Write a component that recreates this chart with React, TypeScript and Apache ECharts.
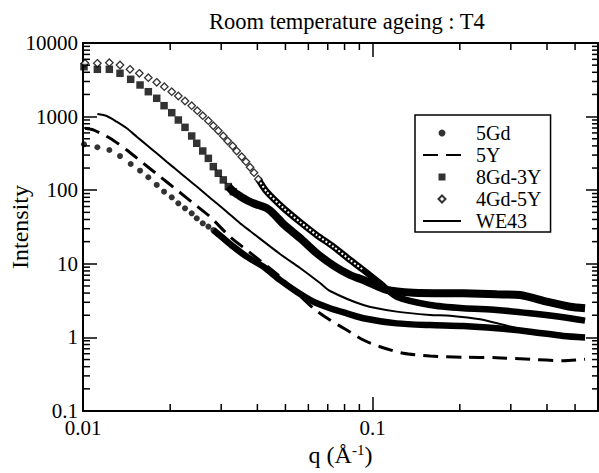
import React, { useEffect, useRef } from "react";
import * as echarts from "echarts";

const FONT = '"Liberation Serif", "Times New Roman", serif';

const X_MIN = 0.01;
const X_MAX = 0.6;
const Y_MIN = 0.1;
const Y_MAX = 10000;

const TITLE = "Room temperature ageing : T4";
const SERIES_NAMES = ["5Gd", "5Y", "8Gd-3Y", "4Gd-5Y", "WE43"];

const xMinorTicks = [0.02, 0.03, 0.04, 0.05, 0.06, 0.07, 0.08, 0.09, 0.2, 0.3, 0.4, 0.5];
const yMinorTicks = [
  0.2, 0.3, 0.4, 0.5, 0.6, 0.7, 0.8, 0.9,
  2, 3, 4, 5, 6, 7, 8, 9,
  20, 30, 40, 50, 60, 70, 80, 90,
  200, 300, 400, 500, 600, 700, 800, 900,
  2000, 3000, 4000, 5000, 6000, 7000, 8000, 9000,
];

// 5Gd : separate dots at low q, dense band at higher q
const gd5Dots = [
  [0.01008, 420], [0.01121, 383], [0.01233, 352], [0.01342, 291], [0.01461, 227],
  [0.01574, 184], [0.01681, 150], [0.01797, 118], [0.01905, 95.4], [0.02025, 80.1],
  [0.02134, 66.4], [0.0225, 56.8], [0.02373, 48.5], [0.0247, 41.5], [0.02591, 35.5],
  [0.02709, 32.0], [0.02818, 28.8], [0.02932, 25.2], [0.03051, 22.2],
];
const gd5Band = [
  [0.02818, 28.8], [0.03051, 22.2], [0.03304, 17.1], [0.03675, 12.5], [0.04195, 9.13],
  [0.04788, 6.02], [0.05468, 4.18], [0.06242, 3.06], [0.07127, 2.49], [0.0814, 2.12],
  [0.0929, 1.82], [0.1211, 1.55], [0.1579, 1.47], [0.2057, 1.43], [0.2682, 1.33],
  [0.3496, 1.195], [0.4556, 1.045], [0.5413, 1.0],
];

// 5Y : dashed line
const y5Line = [
  [0.01016, 693], [0.01085, 658], [0.0124, 507], [0.01416, 352], [0.01616, 232],
  [0.01845, 153], [0.02107, 101], [0.02404, 66.4], [0.02745, 43.6], [0.03218, 23.3],
  [0.03675, 15.4], [0.04195, 10.2], [0.04788, 6.68], [0.06242, 2.49], [0.07127, 1.72],
  [0.0814, 1.26], [0.0929, 0.922], [0.1061, 0.747], [0.1276, 0.608], [0.1579, 0.559],
  [0.2057, 0.537], [0.2682, 0.53], [0.3496, 0.504], [0.4556, 0.483], [0.5413, 0.504],
];

// 8Gd-3Y : squares, then dense band
const gd8y3Squares = [
  [0.01008, 4764], [0.01121, 4392], [0.01233, 4392], [0.01342, 3876], [0.01461, 3213],
  [0.01574, 2688], [0.01681, 2180], [0.01797, 1773], [0.01905, 1407], [0.02025, 1130],
  [0.02134, 899], [0.0225, 715], [0.02373, 545], [0.0247, 434], [0.02591, 341],
  [0.02709, 271], [0.02818, 209], [0.02932, 170], [0.03051, 138], [0.03175, 112],
  [0.03304, 95.4],
];
const gd8y3Band = [
  [0.03175, 112], [0.03304, 95.4], [0.03438, 86], [0.03577, 77.6], [0.03723, 71.3],
  [0.03874, 66.4], [0.04031, 62.9], [0.04308, 57], [0.046, 46], [0.04915, 34.7],
  [0.05615, 22.4], [0.06412, 13.9], [0.07317, 9.48], [0.08356, 7.04], [0.0929, 6.02],
  [0.1119, 4.41], [0.1382, 4.05], [0.2057, 3.97], [0.2682, 3.85], [0.3228, 3.77],
  [0.3993, 3.06], [0.4804, 2.61], [0.5413, 2.49],
];

// 4Gd-5Y : open diamonds, then dense band
const gd4y5Diamonds = [
  [0.01016, 5299], [0.01121, 5299], [0.01233, 5400], [0.01342, 5025], [0.01453, 4392],
  [0.01565, 3876], [0.01681, 3377], [0.01797, 2924], [0.01909, 2549], [0.02025, 2180],
  [0.02134, 1905], [0.0225, 1629], [0.02373, 1407], [0.02481, 1203], [0.02591, 1029],
  [0.02709, 880], [0.02818, 752], [0.02932, 643], [0.03051, 545], [0.0316, 466],
  [0.03287, 399], [0.03394, 341], [0.03532, 285], [0.03654, 244], [0.03774, 205],
  [0.03896, 173], [0.04031, 141],
];
const gd4y5Band = [
  [0.04031, 141], [0.04308, 95.4], [0.04915, 57.3], [0.05615, 37.0], [0.06412, 24.6],
  [0.07317, 17.1], [0.08356, 11.3], [0.0929, 8.24], [0.1061, 5.43], [0.1211, 3.57],
  [0.1579, 2.76], [0.2057, 2.49], [0.2682, 2.36], [0.3496, 2.13], [0.4556, 1.88],
  [0.5413, 1.69],
];

// WE43 : solid line
const we43Line = [
  [0.01121, 1085], [0.01207, 1019], [0.01307, 853], [0.01416, 693], [0.01533, 533],
  [0.0166, 411], [0.01797, 317], [0.01945, 244], [0.02107, 188], [0.02281, 145],
  [0.0247, 112], [0.02674, 86], [0.02895, 66.4], [0.03135, 51], [0.03485, 35.5],
  [0.03774, 27.9], [0.04788, 13.6], [0.05615, 8.77], [0.06583, 5.48], [0.07127, 4.27],
  [0.0929, 2.76], [0.1211, 2.24], [0.1579, 2.02], [0.185, 1.97], [0.2349, 1.76],
  [0.3061, 1.37], [0.3496, 1.195], [0.4556, 1.045], [0.5413, 1.0],
];

const powLabel = (v: number) => {
  const l = Math.log10(v);
  if (Math.abs(l - Math.round(l)) > 1e-6) return "";
  return String(Number(Math.pow(10, Math.round(l)).toPrecision(6)));
};

const tickStyle = { stroke: "#000", lineWidth: 1.5 };
const CLEAR = "rgba(0,0,0,0)";
const SQUARE_ICON = "path://M0,0L10,0L10,10L0,10Z";
const DIAMOND_ICON = "path://M5,0L10,5L5,10L0,5Z";
const legendIcons: Record<string, string | undefined> = {
  "8Gd-3Y": SQUARE_ICON,
  "4Gd-5Y": DIAMOND_ICON,
};

export default function App() {
  const ref = useRef<HTMLDivElement>(null);
  useEffect(() => {
    if (!ref.current) return;
    const chart = echarts.init(ref.current, null, { renderer: "svg" });
    const axisLine = { show: true, onZero: false, lineStyle: { color: "#000", width: 2 } };
    const labelStyle = { fontFamily: FONT, fontSize: 21, color: "#000" };
    const option: any = {
      animation: false,
      backgroundColor: "#fff",
      textStyle: { fontFamily: FONT, color: "#000" },
      title: {
        text: TITLE,
        left: 209,
        top: 10,
        padding: 0,
        textStyle: { fontFamily: FONT, fontSize: 22.5, fontWeight: "normal", color: "#000" },
      },
      grid: { left: 83, right: 1, top: 43, bottom: 62, containLabel: false, outerBoundsMode: "none" },
      legend: {
        orient: "vertical",
        left: 415,
        top: 115,
        padding: [8, 9, 1, 7],
        itemWidth: 38,
        itemHeight: 7,
        itemGap: 2,
        borderColor: "#000",
        borderWidth: 1.5,
        borderRadius: 0,
        backgroundColor: "#fff",
        symbolKeepAspect: true,
        textStyle: { fontFamily: FONT, fontSize: 20, color: "#000", padding: [0, 0, 0, 10] },
        data: SERIES_NAMES.map((n) => (legendIcons[n] ? { name: n, icon: legendIcons[n] } : { name: n })),
      },
      xAxis: [
        {
          type: "log",
          logBase: 10,
          min: X_MIN,
          max: X_MAX,
          position: "bottom",
          axisLine,
          axisTick: { show: true, inside: true, length: 14, lineStyle: { color: "#000", width: 1.5 } },
          axisLabel: { ...labelStyle, margin: 6, formatter: powLabel },
          splitLine: { show: false },
          minorTick: { show: false },
          name: "{a|q (Å}{s|-1}{a|)}",
          nameLocation: "middle",
          nameGap: 31,
          nameMoveOverlap: false,
          nameTextStyle: {
            fontFamily: FONT,
            fontSize: 24,
            color: "#000",
            rich: {
              a: { fontFamily: FONT, fontSize: 24, color: "#000" },
              s: { fontFamily: FONT, fontSize: 15, color: "#000", verticalAlign: "top", padding: [0, 0, 10, 0] },
            },
          },
        },
        {
          type: "log",
          logBase: 10,
          min: X_MIN,
          max: X_MAX,
          position: "top",
          axisLine,
          axisTick: { show: true, inside: true, length: 14, lineStyle: { color: "#000", width: 1.5 } },
          axisLabel: { show: false },
          splitLine: { show: false },
        },
      ],
      yAxis: [
        {
          type: "log",
          logBase: 10,
          min: Y_MIN,
          max: Y_MAX,
          position: "left",
          axisLine,
          axisTick: { show: true, inside: true, length: 14, lineStyle: { color: "#000", width: 1.5 } },
          axisLabel: { ...labelStyle, margin: 5, formatter: powLabel },
          splitLine: { show: false },
          minorTick: { show: false },
          name: "Intensity",
          nameLocation: "middle",
          nameGap: 51,
          nameMoveOverlap: false,
          nameTextStyle: { fontFamily: FONT, fontSize: 24, color: "#000" },
        },
        {
          type: "log",
          logBase: 10,
          min: Y_MIN,
          max: Y_MAX,
          position: "right",
          axisLine,
          axisTick: { show: true, inside: true, length: 12, lineStyle: { color: "#000", width: 1.5 } },
          axisLabel: { show: false },
          splitLine: { show: false },
        },
      ],
      series: [
        {
          name: "5Gd",
          type: "scatter",
          data: gd5Dots,
          symbol: "circle",
          symbolSize: 6,
          itemStyle: { color: "#000" },
          z: 5,
        },
        {
          name: "5Y",
          type: "line",
          data: y5Line,
          symbol: "none",
          smooth: 0.25,
          lineStyle: { color: "#000", width: 3, type: [15, 8] },
          itemStyle: { color: CLEAR, borderWidth: 0 },
          z: 3,
        },
        {
          name: "8Gd-3Y",
          type: "scatter",
          data: gd8y3Squares,
          symbol: "rect",
          symbolSize: 7.5,
          itemStyle: { color: "#000" },
          z: 5,
        },
        {
          name: "4Gd-5Y",
          type: "scatter",
          data: gd4y5Diamonds,
          symbol: "diamond",
          symbolSize: 7.5,
          itemStyle: { color: "#fff", borderColor: "#000", borderWidth: 1.3 },
          z: 6,
        },
        {
          name: "WE43",
          type: "line",
          data: we43Line,
          symbol: "none",
          smooth: 0.25,
          lineStyle: { color: "#000", width: 2 },
          itemStyle: { color: CLEAR, borderWidth: 0 },
          z: 3,
        },
        {
          name: "5Gd dense",
          type: "line",
          data: gd5Band,
          symbol: "none",
          smooth: 0.25,
          lineStyle: { color: "#000", width: 6.5 },
          z: 4,
        },
        {
          name: "8Gd-3Y dense",
          type: "line",
          data: gd8y3Band,
          symbol: "none",
          smooth: 0.25,
          lineStyle: { color: "#000", width: 8 },
          z: 4,
        },
        {
          name: "4Gd-5Y dense",
          type: "line",
          data: gd4y5Band,
          symbol: "none",
          smooth: 0.25,
          lineStyle: { color: "#000", width: 6.5 },
          z: 4,
        },
        {
          name: "4Gd-5Y dense inner",
          type: "line",
          data: gd4y5Band.filter((d) => d[0] <= 0.0929),
          symbol: "none",
          smooth: 0.25,
          lineStyle: { color: "#fff", width: 2, type: [2, 2] },
          z: 4.5,
        },
        {
          type: "custom",
          silent: true,
          data: xMinorTicks.map((q) => [q, Y_MIN]),
          encode: { x: 0, y: 1 },
          renderItem: (_p: any, api: any) => {
            const q = api.value(0);
            const b = api.coord([q, Y_MIN]);
            const t = api.coord([q, Y_MAX]);
            return {
              type: "group",
              children: [
                { type: "line", shape: { x1: b[0], y1: b[1], x2: b[0], y2: b[1] - 7 }, style: tickStyle },
                { type: "line", shape: { x1: t[0], y1: t[1], x2: t[0], y2: t[1] + 7 }, style: tickStyle },
              ],
            };
          },
          z: 10,
        },
        {
          type: "custom",
          silent: true,
          data: yMinorTicks.map((v) => [X_MIN, v]),
          encode: { x: 0, y: 1 },
          renderItem: (_p: any, api: any) => {
            const v = api.value(1);
            const l = api.coord([X_MIN, v]);
            const r = api.coord([X_MAX, v]);
            return {
              type: "group",
              children: [
                { type: "line", shape: { x1: l[0], y1: l[1], x2: l[0] + 7, y2: l[1] }, style: tickStyle },
                { type: "line", shape: { x1: r[0], y1: r[1], x2: r[0] - 6, y2: r[1] }, style: tickStyle },
              ],
            };
          },
          z: 10,
        },
      ],
    };
    chart.setOption(option);
    return () => chart.dispose();
  }, []);
  return (
    <div
      ref={ref}
      style={{ position: "fixed", left: 0, top: 0, width: 599, height: 473, background: "#fff" }}
    />
  );
}
